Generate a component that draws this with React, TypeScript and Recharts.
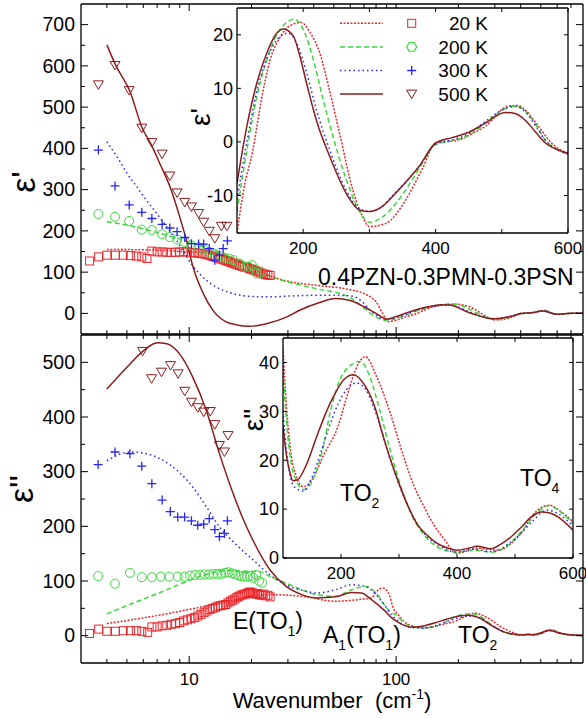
import React from "react";
import {
  ComposedChart,
  Line,
  Scatter,
  XAxis,
  YAxis,
  CartesianGrid,
  Legend,
  Label,
} from "recharts";

const FONT = '"Liberation Sans", Arial, Helvetica, sans-serif';

const RED = "#e8262b";
const GREEN = "#3dd63d";
const BLUE = "#2626f0";
const BROWN = "#8b1c1c";
const DASH20 = "2 1.5";
const DASH200 = "5 3";
const DASH300 = "1.5 3";

// legend
const temps = ["20 K", "200 K", "300 K", "500 K"];
const tempColors = [RED, GREEN, BLUE, BROWN];
const tempDashes = [DASH20, DASH200, DASH300, undefined];

// axis ticks
const logTicks = [4, 5, 6, 7, 8, 9, 10, 20, 30, 40, 50, 60, 70, 80, 90, 100, 200, 300, 400, 500, 600, 700];
const logLabels = [10, 100];
const topYTicks = [0, 50, 100, 150, 200, 250, 300, 350, 400, 450, 500, 550, 600, 650, 700];
const topYLabels = [0, 100, 200, 300, 400, 500, 600, 700];
const botYTicks = [0, 50, 100, 150, 200, 250, 300, 350, 400, 450, 500];
const botYLabels = [0, 100, 200, 300, 400, 500];
const insetXTicks = [200, 300, 400, 500, 600];
const insetXLabels = [200, 400, 600];
const inset1YTicks = [-10, 0, 10, 20];
const inset2YTicks = [0, 10, 20, 30, 40];

// ε' measured points (low wavenumber)
const sq20Top = [[3.3,127],[3.65,137],[4.0,141],[4.4,141],[4.8,141],[5.2,140],[5.55,139],[5.9,137],[6.25,133],[6.6,151],[7.0,149],[7.4,149],[7.8,148],[8.2,148],[8.6,148],[9.0,149],[9.4,149],[9.8,149],[10.2,148],[10.6,147],[11.0,146],[11.4,145],[11.8,144],[12.2,142],[12.6,140],[13.0,138],[13.4,136],[13.8,134],[14.2,132],[14.6,130],[15.0,128],[15.4,126],[15.8,124],[16.2,122],[16.6,120],[17.0,118],[17.5,116],[18.0,114],[18.5,112],[19.0,111],[19.5,109],[20.0,107],[20.5,105],[21.0,103],[21.6,101],[22.2,98],[22.8,96],[23.4,94],[24.0,93],[24.6,92]];
const ci200Top = [[3.64,241],[4.38,234],[5.13,224],[5.9,203],[6.6,202],[7.4,192],[8.06,185],[8.74,179],[9.52,173],[10.25,165],[11.1,160],[11.75,155],[12.5,149],[13.3,145],[14.0,139],[14.8,135],[15.6,133],[16.4,129],[17.5,121],[18.4,113],[19.3,113],[20.1,117],[21.2,97],[22.3,100]];
const pl300Top = [[3.64,396],[4.38,309],[5.13,263],[5.9,245],[6.6,230],[7.4,216],[8.06,207],[8.74,198],[9.52,184],[10.25,169],[11.1,168],[11.75,168],[12.5,157],[13.3,129],[14.0,141],[14.6,157],[15.3,176]];
const tr500Top = [[3.64,554],[4.38,601],[5.13,540],[5.9,449],[6.6,414],[7.4,386],[8.06,333],[8.74,292],[9.52,269],[10.25,258],[11.1,242],[11.75,221],[12.5,199],[13.3,181],[14.3,211],[15.2,211]];

// ε' fits below 100 cm-1
const fit20Top = [[4,155],[6,154],[8,152],[9.7,149],[11.2,148],[14,140],[17.5,128],[21.9,105],[24.4,92],[30,78],[41,68],[59,58],[70,48],[76,38],[80,28],[86,0],[92,-20],[96,-19]];
const fit200Top = [[4,222],[5,214],[6,205],[7,196],[8,188],[9,180],[10,172],[12,160],[14,148],[16,135],[18,122],[20,110],[23,95],[28,80],[41,60],[59,40],[69,15],[80,-9],[89,-17],[94,-16]];
const fit300Top = [[4,416],[4.5,378],[5,340],[5.6,306],[6.2,275],[7,241],[7.8,209],[8.7,176],[9.7,137],[11.2,96],[13.5,64],[16.3,48],[20,41],[24,40],[34,43],[45,44],[59,43],[68,30],[74,10],[80,-4],[86,-13],[92,-14]];
const fit500Top = [[4,651],[4.4,603],[5.2,535],[5.9,452],[6.6,406],[7.2,364],[8.1,305],[9,234],[9.7,177],[10.4,115],[11.7,48],[13,8],[15,-20],[17,-28],[19.6,-31],[23.6,-25],[29.5,-9],[34,7],[42,25],[51,36],[60,31],[70,16],[80,0],[90,-14]];

// ε' 100-600 cm-1 (inset)
const eps1_20 = [[100,-17],[110,-9],[124,-1.5],[137,8],[150,15.3],[165,19.5],[180,21.7],[197,22.3],[210,20.5],[225,16.6],[240,9.5],[255,1.6],[275,-9],[290,-14],[300,-15.8],[325,-15.2],[355,-10.8],[380,-5],[400,-0.2],[435,0.4],[455,1.5],[475,2.9],[510,6.7],[525,6.8],[535,6.0],[555,3],[575,-0.2],[600,-2.1]];
const eps1_200 = [[100,-13],[115,-1.5],[130,8.5],[145,15.3],[160,20],[175,22.3],[187,22.9],[200,21],[215,15.5],[230,8],[245,1],[265,-7],[285,-13],[300,-15],[320,-14],[340,-11.5],[360,-8],[380,-4],[400,-0.5],[425,0.2],[450,1.2],[475,3.5],[505,6.2],[520,6.7],[535,5.8],[550,3.5],[566,0.3],[585,-1.5],[600,-2.3]];
const eps1_300 = [[100,-10.7],[115,0],[130,9.5],[145,15.5],[160,19],[177,20.3],[190,18.5],[205,13],[220,6],[240,-1.5],[265,-9],[285,-12.5],[300,-13],[320,-12],[335,-10],[355,-7.5],[375,-4.6],[400,-0.4],[425,0.4],[450,1.5],[475,3.8],[505,6.2],[520,6.6],[535,5.7],[550,3.2],[566,0.3],[585,-1.5],[600,-2.3]];
const eps1_500 = [[100,-7.7],[115,3],[130,11],[145,16.6],[160,20.3],[170,21.1],[185,19.8],[195,16],[205,11],[220,4],[240,-2.7],[265,-9.6],[285,-12.7],[300,-13],[320,-12],[335,-10.2],[355,-7.5],[375,-4.6],[400,-0.2],[425,0.8],[450,1.8],[475,3.5],[505,5.5],[520,5.3],[535,4.1],[550,2],[566,-0.2],[585,-1.5],[600,-2.1]];
const tailTop = [[650,-1],[720,0.5],[800,0]];

// ε'' measured points (low wavenumber)
const sq20Bot = [[3.3,4],[3.65,12],[4.0,8],[4.4,8],[4.8,9],[5.2,9],[5.55,9],[5.9,8],[6.3,6],[6.6,16],[7.0,16],[7.4,18],[7.8,19],[8.2,21],[8.6,22],[9.0,24],[9.4,27],[9.8,29],[10.2,31],[10.6,33],[11.0,36],[11.4,39],[11.8,42],[12.2,45],[12.6,48],[13.0,50],[13.4,52],[13.8,54],[14.2,55],[14.6,56],[15.0,57],[15.4,60],[15.8,63],[16.2,65],[16.6,67],[17.0,70],[17.4,72],[17.8,74],[18.2,75],[18.6,76],[19.0,77],[19.4,79],[19.8,80],[20.2,78],[20.6,77],[21.0,76],[21.4,77],[21.8,75],[22.3,74],[22.8,76],[23.4,73],[24.0,74],[24.6,71]];
const ci200Bot = [[3.63,109],[4.38,95],[5.17,115],[5.9,107],[6.6,107],[7.3,108],[8.0,108],[8.8,108],[9.5,108],[10.1,110],[10.7,111],[11.3,111],[11.9,112],[12.5,112],[13.1,113],[13.7,113],[14.3,113],[14.9,115],[15.5,116],[16.1,114],[16.7,112],[17.3,110],[17.9,109],[18.5,108],[19.1,108],[19.7,109],[20.4,106],[21.1,111],[21.8,100],[22.5,97]];
const pl300Bot = [[3.63,313],[4.38,336],[5.17,333],[5.9,310],[6.6,278],[7.4,248],[8.1,227],[8.8,217],[9.5,217],[10.25,210],[11.0,202],[11.75,204],[12.5,214],[13.3,194],[14.0,181],[14.8,187],[15.3,210]];
const tr500Bot = [[5.95,520],[6.58,470],[7.35,482],[8.12,494],[8.84,479],[9.52,447],[10.26,427],[11.0,417],[11.75,409],[12.65,410],[13.3,386],[14.0,348],[14.8,336],[15.4,366]];

// ε'' fits below 100 cm-1
const fit20Bot = [[4,22],[7.8,40],[13.5,58],[19.6,70],[24.6,75],[35,72],[51,63],[66,66],[76,69],[82,84],[86,87],[90,83],[93,73],[96,55],[98,47]];
const fit200Bot = [[4,40],[5.4,60],[7.8,84],[11.2,108],[15,119],[18.9,118],[22,117],[24.6,108],[29.4,96],[35,84],[41,75],[51,72],[61,84],[71,90],[80,78],[89,53],[95,42]];
const fit300Bot = [[4,320],[5.2,336],[6,334],[7.2,324],[8.7,303],[10.4,272],[12.1,236],[14,199],[16.3,172],[20.3,139],[24.6,111],[29.4,93],[37,81],[41,78],[51,84],[61,93],[71,90],[80,75],[89,53],[95,38]];
const fit500Bot = [[4,451],[5,491],[6,521],[7,536],[7.8,534],[9,515],[10.4,473],[12.1,412],[14,333],[16.3,260],[18,218],[20.3,175],[24.6,120],[29.4,90],[35,75],[41,69],[51,71],[61,79],[68,78],[76,66],[89,44],[95,33]];

// ε'' 100-600 cm-1 (inset)
const eps2_20 = [[100,43],[106,31],[112,23],[122,17],[135,14.6],[150,16],[170,21],[195,27],[210,33],[225,38.5],[242,41.2],[260,37.5],[285,29.6],[308,20.7],[325,15],[343,10.5],[360,6.8],[377,4],[400,1],[420,1.5],[435,2],[455,1.8],[470,1.6],[505,4.3],[539,9.8],[559,10.8],[580,9.4],[600,7.4]];
const eps2_200 = [[100,38],[106,28],[112,21],[122,16],[137,14],[155,17],[168,22],[181,29.6],[204,37.8],[233,40.2],[250,37],[265,31],[285,22],[305,14],[325,8],[345,4.5],[370,2],[400,1.2],[430,1.6],[460,1.2],[490,2.8],[515,6],[540,9.5],[558,10.7],[578,9.5],[600,7]];
const eps2_300 = [[100,30],[106,22],[112,17],[120,14.5],[135,13.7],[150,16.5],[165,21.5],[180,27],[195,31.5],[210,34.5],[227,35.8],[245,34],[262,29],[280,22],[300,15],[320,9.5],[340,5.5],[366,2.8],[400,1.2],[430,1.8],[460,1.3],[490,3],[510,5],[530,7.5],[555,9.8],[575,9],[600,6.5]];
const eps2_500 = [[100,27],[106,21],[112,17.5],[117,15.8],[125,16],[140,19],[158,24.8],[175,30],[187,33],[205,36.5],[221,37.5],[240,35.5],[258,31],[273,24.8],[290,18.5],[302,14.6],[316,10.5],[331,7],[350,4.5],[366,3],[385,2],[400,1.6],[420,2.0],[435,2.4],[458,1.9],[475,2.8],[493,4.3],[510,6.2],[528,8.4],[545,9.4],[560,9.2],[574,8.4],[600,5.7]];
const tailBot = [[650,3],[720,1],[800,0.5]];

const pts = (a: number[][]) => a.map(([x, y]) => ({ x, y }));

const AX = { stroke: "#000", strokeWidth: 1.3 };

// markers
const Square = (p: any) => (
  <rect x={p.cx - 4} y={p.cy - 4} width={8} height={8} fill="none" stroke={RED} strokeWidth={1} />
);
const Ring = (p: any) => <circle cx={p.cx} cy={p.cy} r={4.5} fill="none" stroke={GREEN} strokeWidth={1} />;
const Plus = (p: any) => (
  <path d={`M${p.cx - 4.5},${p.cy}h9M${p.cx},${p.cy - 4.5}v9`} stroke={BLUE} strokeWidth={1.3} />
);
const TriDown = (p: any) => (
  <path d={`M${p.cx - 5},${p.cy - 4}h10l-5,8.5z`} fill="none" stroke={BROWN} strokeWidth={1} />
);
const Hexagon = (p: any) => {
  const r = 5;
  const d = [0, 1, 2, 3, 4, 5]
    .map((i) => {
      const a = (Math.PI / 3) * i;
      return `${p.cx + r * Math.cos(a)},${p.cy + r * Math.sin(a)}`;
    })
    .join(" ");
  return <polygon points={d} fill="none" stroke={GREEN} strokeWidth={1.2} />;
};
const legendMarkers = [Square, Hexagon, Plus, TriDown];

// inward ticks
const xTick = (side: "bottom" | "top", majors: number[], labels: number[], fs = 17, dy = 22) => (p: any) => {
  const v = p.payload.value;
  const len = majors.includes(v) ? 7 : 4;
  const dir = side === "bottom" ? -1 : 1;
  return (
    <g>
      <line x1={p.x} x2={p.x} y1={p.y} y2={p.y + dir * len} stroke="#000" strokeWidth={1} />
      {labels.includes(v) && (
        <text x={p.x} y={p.y + dy} textAnchor="middle" fontSize={fs} fontFamily={FONT} fill="#000">
          {v}
        </text>
      )}
    </g>
  );
};

const yTick = (side: "left" | "right", majors: number[], labels: number[], fs = 19, gap = 6) => (p: any) => {
  const v = p.payload.value;
  const len = majors.includes(v) ? 7 : 4;
  const dir = side === "left" ? 1 : -1;
  return (
    <g>
      <line x1={p.x} x2={p.x + dir * len} y1={p.y} y2={p.y} stroke="#000" strokeWidth={1} />
      {labels.includes(v) && (
        <text x={p.x - gap} y={p.y} dy="0.35em" textAnchor="end" fontSize={fs} fontFamily={FONT} fill="#000">
          {v}
        </text>
      )}
    </g>
  );
};

const yTitle = (text: string, cx: number, cy: number, fs: number) => () => (
  <text
    x={cx}
    y={cy}
    transform={`rotate(-90 ${cx} ${cy})`}
    textAnchor="middle"
    fontSize={fs}
    fontFamily={FONT}
    fill="#000"
  >
    {text}
  </text>
);

const TempLegend = () => (
  <svg width={160} height={96}>
    {temps.map((t, i) => {
      const y = 13.3 + i * 23.6;
      const M = legendMarkers[i];
      return (
        <g key={t}>
          <line x1={5} x2={48} y1={y} y2={y} stroke={tempColors[i]} strokeWidth={1.5} strokeDasharray={tempDashes[i]} />
          <M cx={76.7} cy={y} />
          <text x={153} y={y} dy="0.35em" textAnchor="end" fontSize={19} fontFamily={FONT} fill="#000">
            {t}
          </text>
        </g>
      );
    })}
  </svg>
);

const logAxis = (id: any, side: "bottom" | "top", h: number, labels: number[]) => (
  <XAxis
    key={`x-${id}`}
    xAxisId={id}
    orientation={side}
    dataKey="x"
    type="number"
    scale="log"
    domain={[3, 800]}
    allowDataOverflow
    ticks={logTicks}
    interval={0}
    height={h}
    tickSize={0}
    tickMargin={0}
    tick={xTick(side, logLabels, labels)}
    axisLine={AX}
  />
);

const linAxis = (id: any, side: "bottom" | "top", h: number, labels: number[]) => (
  <XAxis
    key={`x-${id}`}
    xAxisId={id}
    orientation={side}
    dataKey="x"
    type="number"
    domain={[100, 600]}
    allowDataOverflow
    ticks={insetXTicks}
    interval={0}
    height={h}
    tickSize={0}
    tickMargin={0}
    tick={xTick(side, [], labels, 17, 21)}
    axisLine={AX}
  />
);

const fitLine = (key: string, data: number[][], color: string, dash?: string) => (
  <Line
    key={key}
    data={pts(data)}
    dataKey="y"
    type="monotone"
    stroke={color}
    strokeWidth={1.5}
    strokeDasharray={dash}
    dot={false}
    activeDot={false}
    isAnimationActive={false}
  />
);

const SUB = 14;

export default function App() {
  return (
    <div
      style={{
        position: "absolute",
        left: 0,
        top: 0,
        width: 586,
        height: 719,
        background: "#fff",
        overflow: "hidden",
        fontFamily: FONT,
      }}
    >
      {/* ε' main panel */}
      <div style={{ position: "absolute", left: 0, top: 0 }}>
        <ComposedChart width={586} height={335} margin={{ top: 3, right: 2, bottom: 0, left: 0 }}>
          {logAxis(0, "bottom", 1, [])}
          {logAxis("t", "top", 1, [])}
          <YAxis
            type="number"
            domain={[-50, 750]}
            allowDataOverflow
            ticks={topYTicks}
            interval={0}
            width={81}
            tickSize={0}
            tickMargin={0}
            tick={yTick("left", topYLabels, topYLabels, 19.5, 6)}
            axisLine={AX}
          >
            <Label content={yTitle("ε'", 35, 182, 34)} />
          </YAxis>
          <YAxis
            yAxisId="r"
            orientation="right"
            type="number"
            domain={[-50, 750]}
            allowDataOverflow
            ticks={topYTicks}
            interval={0}
            width={1}
            tickSize={0}
            tickMargin={0}
            tick={yTick("right", topYLabels, [])}
            axisLine={AX}
          />
          <Scatter data={pts(sq20Top)} dataKey="y" shape={Square} isAnimationActive={false} />
          <Scatter data={pts(ci200Top)} dataKey="y" shape={Ring} isAnimationActive={false} />
          <Scatter data={pts(pl300Top)} dataKey="y" shape={Plus} isAnimationActive={false} />
          <Scatter data={pts(tr500Top)} dataKey="y" shape={TriDown} isAnimationActive={false} />
          {fitLine("t20", [...fit20Top, ...eps1_20, ...tailTop], RED, DASH20)}
          {fitLine("t200", [...fit200Top, ...eps1_200, ...tailTop], GREEN, DASH200)}
          {fitLine("t300", [...fit300Top, ...eps1_300, ...tailTop], BLUE, DASH300)}
          {fitLine("t500", [...fit500Top, ...eps1_500, ...tailTop], BROWN)}
          <text x={318} y={285} fontSize={23} fontFamily={FONT} fill="#000">
            0.4PZN-0.3PMN-0.3PSN
          </text>
        </ComposedChart>
      </div>

      {/* ε'' main panel */}
      <div style={{ position: "absolute", left: 0, top: 334 }}>
        <ComposedChart width={586} height={385} margin={{ top: 0, right: 2, bottom: 0, left: 0 }}>
          {logAxis(0, "bottom", 56, logLabels)}
          {logAxis("t", "top", 1, [])}
          <YAxis
            type="number"
            domain={[-50, 550]}
            allowDataOverflow
            ticks={botYTicks}
            interval={0}
            width={81}
            tickSize={0}
            tickMargin={0}
            tick={yTick("left", botYLabels, botYLabels, 19.5, 6)}
            axisLine={AX}
          >
            <Label content={yTitle("ε''", 33, 155, 34)} />
          </YAxis>
          <YAxis
            yAxisId="r"
            orientation="right"
            type="number"
            domain={[-50, 550]}
            allowDataOverflow
            ticks={botYTicks}
            interval={0}
            width={1}
            tickSize={0}
            tickMargin={0}
            tick={yTick("right", botYLabels, [])}
            axisLine={AX}
          />
          <Scatter data={pts(sq20Bot)} dataKey="y" shape={Square} isAnimationActive={false} />
          <Scatter data={pts(ci200Bot)} dataKey="y" shape={Ring} isAnimationActive={false} />
          <Scatter data={pts(pl300Bot)} dataKey="y" shape={Plus} isAnimationActive={false} />
          <Scatter data={pts(tr500Bot)} dataKey="y" shape={TriDown} isAnimationActive={false} />
          {fitLine("b20", [...fit20Bot, ...eps2_20, ...tailBot], RED, DASH20)}
          {fitLine("b200", [...fit200Bot, ...eps2_200, ...tailBot], GREEN, DASH200)}
          {fitLine("b300", [...fit300Bot, ...eps2_300, ...tailBot], BLUE, DASH300)}
          {fitLine("b500", [...fit500Bot, ...eps2_500, ...tailBot], BROWN)}
          <text x={233} y={295} fontSize={23} fontFamily={FONT} fill="#000">
            <tspan>E(TO</tspan>
            <tspan fontSize={SUB} dy={7}>1</tspan>
            <tspan dy={-7}>)</tspan>
          </text>
          <text x={323} y={309} fontSize={23} fontFamily={FONT} fill="#000">
            <tspan>A</tspan>
            <tspan fontSize={SUB} dy={7}>1</tspan>
            <tspan dy={-7}>(TO</tspan>
            <tspan fontSize={SUB} dy={7}>1</tspan>
            <tspan dy={-7}>)</tspan>
          </text>
          <text x={458} y={309} fontSize={23} fontFamily={FONT} fill="#000">
            <tspan>TO</tspan>
            <tspan fontSize={SUB} dy={7}>2</tspan>
          </text>
          <text x={332} y={374} textAnchor="middle" fontSize={22} fontFamily={FONT} fill="#000">
            <tspan>{"Wavenumber\u00A0\u00A0(cm"}</tspan>
            <tspan fontSize={SUB} dy={-9}>-1</tspan>
            <tspan dy={9}>)</tspan>
          </text>
        </ComposedChart>
      </div>

      {/* ε' inset */}
      <div style={{ position: "absolute", left: 180, top: 0 }}>
        <ComposedChart width={406} height={260} margin={{ top: 7, right: 17, bottom: 0, left: 0 }}>
          <CartesianGrid horizontal={false} vertical={false} fill="#fff" fillOpacity={1} />
          {linAxis(0, "bottom", 27, insetXLabels)}
          {linAxis("t", "top", 1, [])}
          <YAxis
            type="number"
            domain={[-17, 25]}
            allowDataOverflow
            ticks={inset1YTicks}
            interval={0}
            width={57}
            tickSize={0}
            tickMargin={0}
            tick={yTick("left", [], inset1YTicks, 18, 4)}
            axisLine={AX}
          >
            <Label content={yTitle("ε'", 30, 117, 28)} />
          </YAxis>
          <YAxis
            yAxisId="r"
            orientation="right"
            type="number"
            domain={[-17, 25]}
            allowDataOverflow
            ticks={inset1YTicks}
            interval={0}
            width={1}
            tickSize={0}
            tickMargin={0}
            tick={yTick("right", [], [])}
            axisLine={AX}
          />
          {fitLine("i20", eps1_20, RED, DASH20)}
          {fitLine("i200", eps1_200, GREEN, DASH200)}
          {fitLine("i300", eps1_300, BLUE, DASH300)}
          {fitLine("i500", eps1_500, BROWN)}
          <Legend
            layout="vertical"
            align="center"
            verticalAlign="middle"
            wrapperStyle={{ left: 155, top: 10, width: 160, height: 96 }}
            content={() => <TempLegend />}
          />
        </ComposedChart>
      </div>

      {/* ε'' inset */}
      <div style={{ position: "absolute", left: 230, top: 330 }}>
        <ComposedChart width={356} height={262} margin={{ top: 7, right: 12, bottom: 12, left: 0 }}>
          <CartesianGrid horizontal={false} vertical={false} fill="#fff" fillOpacity={1} />
          {linAxis(0, "bottom", 22, insetXLabels)}
          {linAxis("t", "top", 1, [])}
          <YAxis
            type="number"
            domain={[0, 45]}
            allowDataOverflow
            ticks={inset2YTicks}
            interval={0}
            width={53}
            tickSize={0}
            tickMargin={0}
            tick={yTick("left", [], inset2YTicks, 18, 4)}
            axisLine={AX}
          >
            <Label content={yTitle('ε"', 33, 90, 28)} />
          </YAxis>
          <YAxis
            yAxisId="r"
            orientation="right"
            type="number"
            domain={[0, 45]}
            allowDataOverflow
            ticks={inset2YTicks}
            interval={0}
            width={1}
            tickSize={0}
            tickMargin={0}
            tick={yTick("right", [], [])}
            axisLine={AX}
          />
          {fitLine("j20", eps2_20, RED, DASH20)}
          {fitLine("j200", eps2_200, GREEN, DASH200)}
          {fitLine("j300", eps2_300, BLUE, DASH300)}
          {fitLine("j500", eps2_500, BROWN)}
          <text x={110} y={171} fontSize={23} fontFamily={FONT} fill="#000">
            <tspan>TO</tspan>
            <tspan fontSize={SUB} dy={7}>2</tspan>
          </text>
          <text x={290} y={156} fontSize={23} fontFamily={FONT} fill="#000">
            <tspan>TO</tspan>
            <tspan fontSize={SUB} dy={7}>4</tspan>
          </text>
        </ComposedChart>
      </div>
    </div>
  );
}
